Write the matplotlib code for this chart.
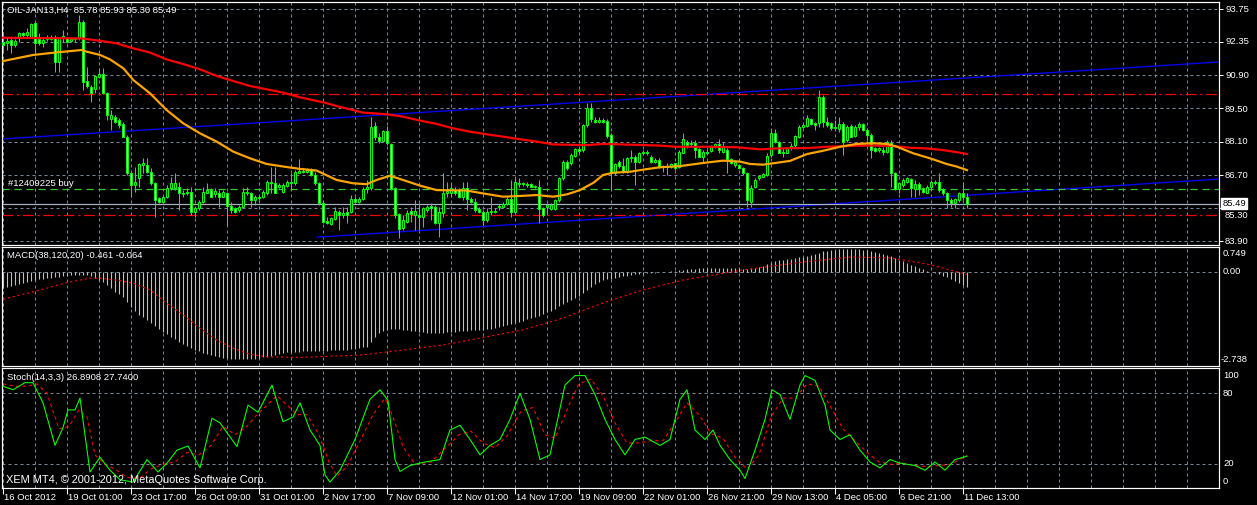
import matplotlib
matplotlib.use("Agg")
import matplotlib.pyplot as plt
from matplotlib.patches import Rectangle

plt.rcParams['font.family'] = ['Liberation Sans', 'DejaVu Sans']

# ---------------- DATA ----------------
symbol_title = "OIL-JAN13,H4  85.78 85.93 85.30 85.49"
macd_title = "MACD(38,120,20) -0.461 -0.064"
stoch_title = "Stoch(14,3,3) 26.8908 27.7400"
copyright_text = "XEM MT4, \u00a9 2001-2012, MetaQuotes Software Corp."
order_label = "#12409225 buy"

opens = [
    92.36, 92.29, 92.43, 92.22, 92.57, 92.72, 92.65, 92.57, 93.14, 92.46,
    92.29, 92.46, 92.57, 92.57, 91.51, 92.50, 92.50, 92.40, 92.46, 92.50,
    93.21, 90.71, 90.45, 90.34, 90.85, 90.99, 90.20, 89.07, 89.18, 89.04,
    88.87, 88.33, 86.77, 86.28, 86.56, 87.13, 87.13, 86.84, 86.35, 85.71,
    85.57, 85.78, 86.13, 86.13, 86.20, 85.89, 85.99, 85.99, 85.12, 85.29,
    85.54, 85.95, 86.06, 85.89, 85.95, 85.78, 85.95, 85.40, 85.29, 85.22,
    85.36, 85.92, 85.92, 85.64, 85.78, 85.75, 85.95, 86.42, 86.37, 86.20,
    85.99, 86.23, 86.42, 86.35, 86.80, 86.89, 86.84, 86.91, 86.70, 86.35,
    85.50, 84.76, 84.62, 84.82, 85.14, 85.00, 85.14, 85.12, 85.68, 85.57,
    85.67, 86.09, 86.13, 88.78, 88.33, 88.15, 88.57, 88.02, 86.13, 85.03,
    84.44, 84.72, 85.19, 85.00, 85.00, 84.93, 85.22, 85.39, 85.36, 84.65,
    85.07, 85.92, 85.95, 86.06, 86.06, 85.78, 86.16, 85.67, 85.57, 85.24,
    85.12, 84.79, 85.12, 85.14, 85.33, 85.36, 85.47, 85.67, 85.14, 86.32,
    86.35, 86.32, 86.32, 86.20, 86.18, 85.29, 85.33, 85.24, 85.24, 85.64,
    86.56, 87.27, 87.20, 87.51, 87.79, 87.76, 88.82, 89.53, 89.04, 88.97,
    89.04, 89.01, 88.40, 86.77, 87.24, 87.08, 86.84, 87.41, 87.48, 87.27,
    87.62, 87.69, 87.48, 87.24, 87.34, 87.03, 87.10, 87.03, 87.20, 87.06,
    87.65, 88.12, 88.02, 88.07, 87.79, 87.48, 87.69, 87.73, 87.90, 88.02,
    87.69, 87.76, 87.37, 87.13, 87.13, 86.98, 86.77, 85.57, 86.20, 86.56,
    86.63, 86.70, 87.55, 88.47, 88.12, 87.69, 87.65, 87.83, 87.98, 88.33,
    88.73, 88.78, 89.07, 88.89, 88.89, 90.03, 88.97, 88.89, 88.68, 88.66,
    88.87, 88.19, 88.78, 88.36, 88.73, 88.87, 88.61, 88.40, 87.83, 87.76,
    87.76, 87.69, 88.07, 86.77, 86.09, 86.28, 86.42, 86.52, 86.09, 86.32,
    86.13, 85.95, 86.18, 86.42, 86.42, 86.09, 85.92, 85.64, 85.50, 85.64,
    85.95, 85.78]

highs = [
    92.79, 92.57, 92.50, 92.46, 92.79, 92.79, 92.93, 93.14, 93.21, 92.72,
    92.50, 92.65, 92.65, 92.65, 92.57, 92.86, 92.57, 92.54, 92.57, 93.49,
    93.28, 91.30, 90.52, 90.95, 91.23, 91.23, 90.24, 89.46, 89.25, 89.11,
    88.97, 88.40, 86.84, 87.06, 87.20, 87.41, 87.41, 86.98, 86.42, 85.78,
    85.85, 86.28, 86.63, 86.77, 86.42, 86.06, 86.13, 86.20, 85.36, 85.64,
    86.20, 86.35, 86.13, 86.13, 86.06, 86.06, 85.99, 85.57, 85.36, 85.43,
    86.13, 86.20, 85.99, 85.85, 85.85, 86.06, 86.49, 87.06, 87.06, 86.35,
    86.35, 86.49, 86.77, 86.91, 87.37, 86.98, 86.98, 86.98, 86.84, 86.42,
    85.64, 84.93, 84.93, 85.36, 85.22, 85.36, 85.36, 85.85, 85.78, 85.78,
    86.20, 86.49, 89.18, 88.97, 88.47, 88.61, 88.78, 88.07, 86.20, 85.07,
    85.00, 85.22, 85.36, 85.64, 85.50, 85.36, 85.43, 85.50, 85.43, 85.36,
    86.77, 86.42, 86.35, 86.20, 86.13, 86.42, 86.42, 85.78, 85.71, 85.36,
    85.22, 85.29, 85.78, 85.29, 85.47, 85.57, 85.78, 86.49, 86.63, 86.56,
    86.42, 86.42, 86.37, 86.28, 86.49, 85.36, 85.50, 85.50, 85.67, 86.63,
    87.34, 87.34, 87.62, 87.83, 87.83, 88.87, 89.75, 89.75, 89.18, 89.15,
    89.11, 89.07, 88.47, 87.20, 87.34, 87.41, 87.48, 87.76, 87.55, 87.69,
    87.76, 87.76, 87.55, 87.41, 87.41, 87.13, 87.20, 87.23, 87.23, 87.76,
    88.47, 88.19, 88.19, 88.19, 87.83, 87.76, 87.79, 87.98, 88.07, 88.22,
    88.12, 87.83, 87.41, 87.34, 87.17, 87.03, 86.84, 86.28, 86.56, 86.70,
    86.77, 87.62, 88.64, 88.64, 88.16, 87.83, 87.90, 88.05, 88.40, 88.82,
    88.89, 89.25, 89.11, 88.97, 90.31, 90.10, 89.18, 88.97, 89.04, 89.18,
    88.97, 88.82, 88.87, 88.82, 88.97, 88.92, 88.68, 88.47, 87.90, 87.90,
    87.90, 88.19, 88.19, 86.84, 86.42, 86.56, 86.63, 86.56, 86.49, 86.42,
    86.20, 86.28, 86.49, 86.49, 86.77, 86.13, 85.99, 85.71, 85.71, 85.99,
    86.42, 85.93]

lows = [
    91.87, 92.01, 91.87, 92.15, 92.36, 92.57, 92.50, 92.50, 91.87, 92.22,
    92.15, 92.40, 92.43, 91.09, 91.09, 92.36, 92.32, 92.36, 92.36, 92.43,
    90.31, 90.38, 89.82, 90.20, 90.81, 90.13, 89.04, 88.61, 88.89, 88.68,
    88.30, 86.70, 85.78, 85.99, 86.20, 86.77, 86.77, 86.28, 84.93, 85.50,
    85.50, 85.71, 86.06, 86.06, 85.22, 85.78, 85.85, 85.00, 84.93, 85.22,
    85.50, 85.92, 85.75, 85.78, 85.36, 85.75, 84.58, 85.07, 85.07, 85.14,
    85.29, 85.85, 85.36, 85.43, 85.64, 85.71, 85.85, 85.92, 85.92, 86.13,
    85.92, 86.20, 86.06, 86.28, 86.77, 86.77, 86.80, 86.66, 86.28, 85.43,
    84.68, 84.62, 84.58, 84.79, 84.37, 84.86, 84.65, 85.07, 85.50, 85.50,
    85.64, 85.92, 86.06, 88.19, 88.05, 88.12, 87.98, 86.06, 84.86, 84.01,
    84.37, 84.65, 84.72, 84.37, 84.37, 84.51, 85.14, 84.79, 84.62, 84.08,
    84.93, 85.78, 85.78, 85.85, 85.71, 85.64, 85.22, 85.50, 85.14, 85.07,
    84.58, 84.72, 85.00, 85.07, 85.22, 85.29, 85.43, 84.93, 85.07, 86.20,
    86.23, 86.20, 86.18, 86.13, 84.65, 84.93, 85.07, 85.22, 85.22, 85.57,
    86.49, 86.91, 87.13, 87.48, 87.62, 87.69, 88.75, 88.97, 88.92, 88.89,
    88.89, 88.26, 86.06, 86.70, 86.98, 86.77, 86.77, 87.27, 86.28, 87.20,
    87.55, 87.55, 87.20, 87.20, 86.98, 86.84, 86.70, 86.98, 86.91, 86.98,
    87.62, 87.83, 87.90, 87.41, 87.45, 87.27, 87.59, 87.69, 87.83, 87.62,
    87.62, 86.77, 87.17, 87.06, 86.94, 86.70, 85.36, 85.36, 86.13, 86.49,
    86.60, 86.66, 87.48, 88.05, 87.62, 87.48, 87.62, 87.76, 87.90, 88.26,
    88.68, 88.75, 88.82, 88.61, 88.75, 88.75, 88.75, 88.61, 88.61, 88.54,
    87.55, 88.12, 88.30, 88.33, 88.61, 88.58, 88.19, 87.41, 87.69, 87.69,
    87.55, 87.62, 86.20, 86.06, 85.92, 86.20, 86.35, 85.78, 85.78, 85.85,
    85.92, 85.92, 86.06, 86.28, 85.99, 85.85, 85.29, 85.36, 85.29, 85.57,
    85.64, 85.30]

closes = [
    92.22, 92.40, 92.22, 92.40, 92.72, 92.65, 92.79, 93.11, 92.29, 92.32,
    92.43, 92.54, 92.46, 91.51, 92.50, 92.60, 92.36, 92.46, 92.45, 93.21,
    90.66, 90.48, 90.17, 90.91, 90.99, 90.17, 89.25, 89.25, 88.97, 88.82,
    88.33, 86.77, 86.28, 86.42, 87.15, 87.20, 86.84, 86.35, 85.64, 85.57,
    85.75, 86.13, 86.35, 86.37, 85.92, 85.95, 85.92, 85.14, 85.29, 85.57,
    85.99, 86.06, 85.78, 86.02, 85.78, 85.97, 85.39, 85.22, 85.12, 85.36,
    85.99, 85.99, 85.64, 85.75, 85.71, 85.99, 86.42, 86.35, 85.95, 86.28,
    86.28, 86.42, 86.35, 86.84, 86.89, 86.84, 86.91, 86.70, 86.35, 85.50,
    84.72, 84.68, 84.86, 85.19, 85.00, 85.10, 85.00, 85.67, 85.57, 85.68,
    86.09, 86.18, 88.75, 88.30, 88.16, 88.57, 88.05, 86.09, 85.00, 84.39,
    84.79, 85.07, 85.05, 85.19, 84.93, 85.29, 85.36, 85.29, 84.65, 85.14,
    85.92, 86.04, 86.13, 85.95, 85.78, 86.13, 85.67, 85.54, 85.22, 85.12,
    84.79, 85.14, 85.19, 85.19, 85.39, 85.47, 85.67, 85.14, 86.42, 86.37,
    86.31, 86.26, 86.20, 86.18, 85.24, 85.00, 85.43, 85.43, 85.64, 86.56,
    87.27, 86.98, 87.55, 87.79, 87.73, 88.82, 89.53, 89.07, 88.97, 89.04,
    88.97, 88.36, 86.77, 87.15, 87.08, 86.84, 87.41, 87.45, 87.27, 87.65,
    87.68, 87.62, 87.24, 87.34, 87.06, 87.08, 87.03, 87.17, 86.98, 87.69,
    88.22, 87.98, 88.07, 87.76, 87.48, 87.69, 87.65, 87.93, 88.02, 87.76,
    87.88, 87.37, 87.20, 87.27, 86.98, 86.77, 85.64, 86.13, 86.49, 86.66,
    86.74, 87.51, 88.47, 88.12, 87.65, 87.62, 87.83, 87.95, 88.36, 88.75,
    88.82, 89.11, 88.87, 88.82, 90.03, 88.97, 88.82, 88.68, 88.75, 88.87,
    88.12, 88.75, 88.33, 88.75, 88.87, 88.61, 88.40, 87.76, 87.73, 87.83,
    87.66, 88.12, 86.77, 86.09, 86.35, 86.49, 86.56, 86.13, 86.32, 86.13,
    85.99, 86.18, 86.42, 86.35, 86.06, 85.92, 85.64, 85.50, 85.67, 85.92,
    85.78, 85.49]

# moving averages (bar index, price)
ma_fast_bars = [0, 7.6, 13, 19.7, 20.9, 24.25, 26.75, 30.1, 32.6, 36.75, 40.9, 45.1,
                49.25, 53.4, 57.6, 61.75, 65.9, 70.1, 74.25, 78.4, 83.4, 87.5, 90.9,
                93.4, 96.75, 100, 104.25, 108.4, 115.9, 120, 125, 129.25, 133.4,
                137.6, 141, 144.25, 147.6, 150, 152.6, 156.75, 160.5, 164.25, 169.25,
                175.9, 180, 184.25, 186.75, 190, 192.6, 196.75, 201, 205, 209.25,
                213.4, 217.6, 221, 223.5, 227.6, 231.75, 235.9, 238.4, 241]
ma_fast_vals = [91.54, 91.80, 91.90, 92.01, 91.94, 91.80, 91.61, 91.23, 90.73, 90.17,
                89.46, 88.89, 88.47, 88.12, 87.69, 87.41, 87.17, 87.06, 86.96, 86.89,
                86.49, 86.35, 86.31, 86.49, 86.67, 86.49, 86.25, 86.06, 86.04, 85.92,
                85.78, 85.81, 85.85, 85.78, 85.88, 86.06, 86.37, 86.70, 86.80, 86.84,
                86.94, 87.03, 87.08, 87.23, 87.31, 87.27, 87.17, 87.14, 87.20, 87.30,
                87.59, 87.73, 87.90, 88.02, 88.05, 88.02, 87.90, 87.62, 87.41, 87.17,
                87.06, 86.91]
ma_slow_bars = [0, 19.7, 24.25, 28.4, 32.6, 36.75, 40.9, 45.1, 49.25, 53.4, 57.6, 61.75,
                65.9, 70.1, 74.25, 80.5, 83.4, 87.5, 90, 96, 100, 104.25, 108.4, 112.6,
                116.75, 120.9, 125, 129.25, 133.4, 137.6, 145.9, 150, 154.25, 160.5,
                164.25, 168.4, 176.75, 183.4, 189.25, 193.4, 201.75, 205.9, 214.25,
                218.4, 222.6, 226.75, 230.9, 235, 239.25, 241]
ma_slow_vals = [92.53, 92.50, 92.40, 92.29, 92.08, 91.90, 91.61, 91.41, 91.19, 90.91,
                90.69, 90.48, 90.34, 90.20, 90.00, 89.77, 89.63, 89.46, 89.35, 89.28,
                89.18, 89.01, 88.87, 88.68, 88.54, 88.43, 88.33, 88.22, 88.12, 88.00,
                87.97, 88.02, 88.00, 87.97, 87.95, 87.90, 87.90, 87.88, 87.79, 87.83,
                87.85, 87.90, 87.95, 87.95, 87.93, 87.86, 87.83, 87.76, 87.65, 87.59]

# trend lines (bar index, price)
upper_line_bars = [-0.25, 304]
upper_line_prices = [88.23, 91.50]
lower_line_bars = [78.5, 304]
lower_line_prices = [84.06, 86.53]

take_profit = 90.13
order_price = 86.11
stop_loss = 85.00
bid_price = 85.49

price_ticks = [83.90, 85.307, 86.714, 88.121, 89.529, 90.936, 92.343, 93.75]
price_tick_labels = ["83.90", "85.30", "86.70", "88.10", "89.50", "90.90", "92.35", "93.75"]

macd_hist = [
    -0.50, -0.47, -0.44, -0.41, -0.37, -0.34, -0.31, -0.28, -0.24, -0.22,
    -0.20, -0.18, -0.16, -0.14, -0.13, -0.11, -0.10, -0.09, -0.08, -0.07,
    -0.08, -0.09, -0.11, -0.17, -0.24, -0.31, -0.39, -0.50, -0.61, -0.68,
    -0.76, -0.92, -1.08, -1.21, -1.34, -1.42, -1.50, -1.60, -1.69, -1.78,
    -1.87, -1.95, -2.03, -2.10, -2.18, -2.25, -2.32, -2.38, -2.44, -2.49,
    -2.53, -2.57, -2.60, -2.63, -2.66, -2.69, -2.71, -2.72, -2.73, -2.735,
    -2.738, -2.735, -2.73, -2.72, -2.70, -2.68, -2.66, -2.63, -2.60, -2.57,
    -2.54, -2.52, -2.51, -2.50, -2.50, -2.49, -2.48, -2.48, -2.47, -2.47,
    -2.47, -2.47, -2.46, -2.46, -2.45, -2.44, -2.43, -2.42, -2.40, -2.38,
    -2.36, -2.34, -2.20, -2.05, -1.92, -1.85, -1.80, -1.78, -1.77, -1.78,
    -1.80, -1.82, -1.84, -1.86, -1.88, -1.89, -1.90, -1.90, -1.91, -1.91,
    -1.90, -1.89, -1.88, -1.87, -1.86, -1.85, -1.84, -1.83, -1.82, -1.81,
    -1.80, -1.79, -1.77, -1.75, -1.73, -1.70, -1.67, -1.64, -1.60, -1.56,
    -1.52, -1.48, -1.44, -1.40, -1.36, -1.31, -1.26, -1.20, -1.14, -1.07,
    -1.00, -0.93, -0.86, -0.80, -0.74, -0.64, -0.54, -0.45, -0.37, -0.30,
    -0.25, -0.22, -0.20, -0.17, -0.14, -0.12, -0.10, -0.08, -0.06, -0.05,
    -0.04, -0.03, -0.02, -0.01, 0.01, 0.02, 0.03, 0.04, 0.05, 0.07,
    0.09, 0.10, 0.11, 0.12, 0.13, 0.13, 0.14, 0.14, 0.14, 0.14,
    0.14, 0.14, 0.14, 0.13, 0.13, 0.12, 0.12, 0.13, 0.15, 0.18,
    0.21, 0.26, 0.31, 0.35, 0.38, 0.40, 0.42, 0.44, 0.46, 0.48,
    0.50, 0.53, 0.56, 0.59, 0.63, 0.67, 0.69, 0.70, 0.72, 0.73,
    0.74, 0.749, 0.745, 0.74, 0.73, 0.72, 0.70, 0.68, 0.65, 0.62,
    0.59, 0.56, 0.51, 0.45, 0.40, 0.35, 0.30, 0.25, 0.20, 0.15,
    0.10, 0.06, 0.02, -0.02, -0.06, -0.10, -0.15, -0.21, -0.27, -0.33,
    -0.40, -0.461]

macd_signal_bars = [0, 7.6, 15.9, 21.75, 24.25, 28.4, 32.6, 36.75, 40.9, 45.1, 49.25,
                    53.4, 57.6, 61.75, 65.9, 74.25, 90, 110, 130, 140, 150, 160, 170,
                    185, 200, 212, 222, 232, 241]
macd_signal_vals = [-0.84, -0.61, -0.32, -0.18, -0.18, -0.24, -0.34, -0.55, -0.97, -1.34,
                    -1.76, -2.13, -2.39, -2.58, -2.66, -2.68, -2.60, -2.29, -1.81, -1.44,
                    -0.96, -0.55, -0.24, 0.08, 0.33, 0.49, 0.46, 0.24, -0.064]

stoch_main_bars = [0, 2.5, 5.5, 7.5, 10, 13, 15, 16.25, 18, 19.25, 21.75, 24.25, 26.75,
                   29.25, 32.5, 36, 38.75, 41, 43.5, 46.25, 49.25, 52.25, 54.25, 58.5,
                   61.25, 63.75, 67.25, 70, 72.5, 74.25, 76.75, 79.25, 80.5, 81.75, 84.25,
                   88, 91.75, 94.25, 96.25, 98, 99.25, 101.75, 105.5, 109.25, 111.75,
                   114.25, 116.75, 119.25, 121.75, 124.25, 126.75, 129.25, 131.75, 134.25,
                   136.75, 140.5, 143, 145.5, 148, 150.5, 153, 155.5, 158, 160.5, 164.25,
                   166.75, 169.25, 171, 173, 175.5, 177.5, 179.25, 181.75, 184.25, 185.5,
                   188, 190.5, 192.25, 194.25, 196.75, 199.25, 200.5, 203, 205.5, 206.75,
                   209.25, 211.75, 214.25, 216.75, 219.25, 221.75, 224.25, 228, 230.5,
                   233, 235.5, 238, 241]
stoch_main_vals = [86, 83, 89, 89, 72, 36, 51, 66, 66, 76, 13.5, 26, 15, 7, 5, 24, 13.5,
                   21, 32, 35.5, 17, 59, 55, 35, 70, 64, 87, 56, 60, 72, 49, 36, 11, 5, 15,
                   41, 75, 83, 74, 24, 14, 19, 22, 24, 49, 53, 41, 28, 36, 41, 58, 80, 58,
                   24, 28, 87, 95, 95, 79, 58, 41, 28, 41, 43, 36, 41, 75, 83, 49, 41, 49,
                   36, 24, 15, 8, 32, 58, 83, 79, 58, 87, 95, 91, 70, 49, 41, 45, 32, 22,
                   17, 24, 21, 19, 15, 22, 15, 24, 26.89]
stoch_signal_bars = [0, 3, 6, 8.5, 11, 14, 16.5, 19, 21, 23, 25.5, 28, 31, 34, 37, 40, 43,
                     46, 49, 52, 55, 58, 61, 63.5, 66, 68.5, 71, 73.5, 76, 79, 81.5, 83.5,
                     86, 89, 92.5, 95.5, 97.5, 100, 103, 107, 111, 114, 117, 120, 123, 126,
                     129.5, 132.5, 135.5, 138, 141.5, 144, 147, 150, 153, 156, 159, 162,
                     165, 168, 171, 174, 177, 180, 183, 186, 189, 192, 195, 198, 201, 204,
                     207, 210, 213, 216, 219, 222, 225, 228, 231, 234, 237, 241]
stoch_signal_vals = [88, 86, 86, 88, 80, 50, 52, 66, 60, 28, 20, 16, 9, 8, 16, 20, 22, 30,
                     28, 36, 52, 45, 52, 62, 70, 78, 70, 62, 62, 45, 22, 10, 18, 38, 62, 76,
                     60, 35, 20, 22, 35, 45, 48, 38, 34, 44, 65, 68, 45, 42, 70, 88, 92, 78,
                     55, 38, 38, 40, 40, 55, 72, 62, 46, 42, 26, 16, 28, 60, 76, 76, 88, 86,
                     68, 50, 40, 30, 22, 20, 21, 19, 18, 19, 20, 27.74]

x_tick_bars = [0, 16, 32, 48, 64, 80, 96, 112, 128, 144, 160, 176, 192, 208, 224, 240]
x_tick_labels = ["16 Oct 2012", "19 Oct 01:00", "23 Oct 17:00", "26 Oct 09:00",
                 "31 Oct 01:00", "2 Nov 17:00", "7 Nov 09:00", "12 Nov 01:00",
                 "14 Nov 17:00", "19 Nov 09:00", "22 Nov 01:00", "26 Nov 21:00",
                 "29 Nov 13:00", "4 Dec 05:00", "6 Dec 21:00", "11 Dec 13:00"]

# ---------------- STYLE / LAYOUT ----------------
W, H = 1257, 505
DPI = 100
PX = 72.0 / DPI
GRID = '#778899'
LIME = '#00FF00'
FS = 6.8

fig = plt.figure(figsize=(W / DPI, H / DPI), dpi=DPI, facecolor='black')


def add_panel(top, bottom, left=2, right=1219):
    ax = fig.add_axes([left / W, 1 - bottom / H, (right - left) / W, (bottom - top) / H])
    ax.set_facecolor('black')
    for s in ax.spines.values():
        s.set_color('white')
        s.set_linewidth(1.2 * PX)
    ax.set_xlim(-0.25, 304)
    ax.tick_params(axis='both', which='both', length=0, labelleft=False,
                   labelbottom=False, labelright=False)
    return ax


def ptext(x, y, s, **kw):
    kw.setdefault('fontsize', FS)
    kw.setdefault('color', 'white')
    return fig.text(x / W, 1 - y / H, s, va='center', ha='left', **kw)


ax1 = add_panel(2, 245)
ax2 = add_panel(247, 366)
ax3 = add_panel(368, 488)

ax1.set_ylim(83.729, 94.047)
ax2.set_ylim(-2.95, 0.804)
ax3.set_ylim(0, 101.4)

dash = (0, (3, 3))
for ax in (ax1, ax2, ax3):
    for b in range(0, 305, 8):
        ax.axvline(b, color=GRID, lw=PX, ls=dash, zorder=0)
for v in price_ticks:
    ax1.axhline(v, color=GRID, lw=PX, ls=dash, zorder=0)
ax2.axhline(0, color=GRID, lw=PX, ls=dash, zorder=0)
for v in (20, 80):
    ax3.axhline(v, color=GRID, lw=PX, ls=dash, zorder=0)

# right-side tick marks
ax1.yaxis.tick_right()
ax1.set_yticks(price_ticks)
ax1.tick_params(axis='y', length=3, width=PX, color='white', labelright=False)

# ---------------- MAIN PANEL ----------------
ax1.plot(upper_line_bars, upper_line_prices, color='#0000FF', lw=1.3 * PX, zorder=1)
ax1.plot(lower_line_bars, lower_line_prices, color='#0000FF', lw=1.3 * PX, zorder=1)
ax1.axhline(take_profit, color='#FF0000', lw=1.2 * PX, ls=(0, (9, 3, 2, 3)), zorder=1)
ax1.axhline(stop_loss, color='#FF0000', lw=1.2 * PX, ls=(0, (9, 3, 2, 3)), zorder=1)
ax1.axhline(order_price, color='#32CD32', lw=1.2 * PX, ls=(0, (6, 4)), zorder=1)
ax1.axhline(bid_price, color='#A9B4C2', lw=1.2 * PX, zorder=1)

for i, (o, h, l, c) in enumerate(zip(opens, highs, lows, closes)):
    ax1.vlines(i, l, h, color=LIME, lw=PX, zorder=3)
    if abs(c - o) < 0.025:
        ax1.hlines((o + c) / 2, i - 0.4, i + 0.4, color=LIME, lw=1.5 * PX, zorder=4)
    else:
        face = 'black' if c > o else 'white'
        ax1.add_patch(Rectangle((i - 0.25, min(o, c)), 0.5, abs(c - o), facecolor=face,
                                edgecolor=LIME, lw=PX, zorder=4))

ax1.plot(ma_slow_bars, ma_slow_vals, color='#FF0000', lw=2.2 * PX, zorder=5)
ax1.plot(ma_fast_bars, ma_fast_vals, color='#FFA500', lw=2.2 * PX, zorder=5)

# ---------------- MACD ----------------
ax2.vlines(range(len(macd_hist)), 0, macd_hist, color='#C0C0C0', lw=1.1 * PX, zorder=2)
ax2.plot(macd_signal_bars, macd_signal_vals, color='#FF0000', lw=1.1 * PX,
         ls=(0, (2, 2.5)), zorder=3)
ax2.set_yticks([0.749, 0.0, -2.738])
ax2.yaxis.tick_right()
ax2.tick_params(axis='y', length=0, labelright=False)

# ---------------- STOCH ----------------
ax3.plot(stoch_signal_bars, stoch_signal_vals, color='#FF0000', lw=1.1 * PX,
         ls=(0, (3, 3)), zorder=2)
ax3.plot(stoch_main_bars, stoch_main_vals, color=LIME, lw=1.1 * PX, zorder=3)
ax3.set_xticks(x_tick_bars)
ax3.tick_params(axis='x', length=4, width=PX, color='white', direction='out',
                labelbottom=False)

# ---------------- TEXTS ----------------
ptext(7, 10, symbol_title)
ptext(8, 183, order_label)
ptext(7, 256, macd_title)
ptext(7, 378, stoch_title)
ptext(6, 480, copyright_text, fontsize=7.9)

label_y = [241, 216, 175, 142, 109, 76, 42, 9]
for y, s in zip(label_y, price_tick_labels):
    ptext(1225, y, s)
ptext(1222.5, 203.5, "85.49", color='black', zorder=10,
      bbox=dict(facecolor='white', edgecolor='white', boxstyle='square,pad=0.12'))

ptext(1223, 254, "0.749")
ptext(1223, 272, "0.00")
ptext(1221, 359, "-2.738")
ptext(1223, 375, "100")
ptext(1223, 393, "80")
ptext(1223, 463, "20")
ptext(1223, 481, "0")

for b, s in zip(x_tick_bars, x_tick_labels):
    ptext(3 + 4 * b + 1, 497, s)

fig.savefig("out.png", dpi=DPI, facecolor='black')
